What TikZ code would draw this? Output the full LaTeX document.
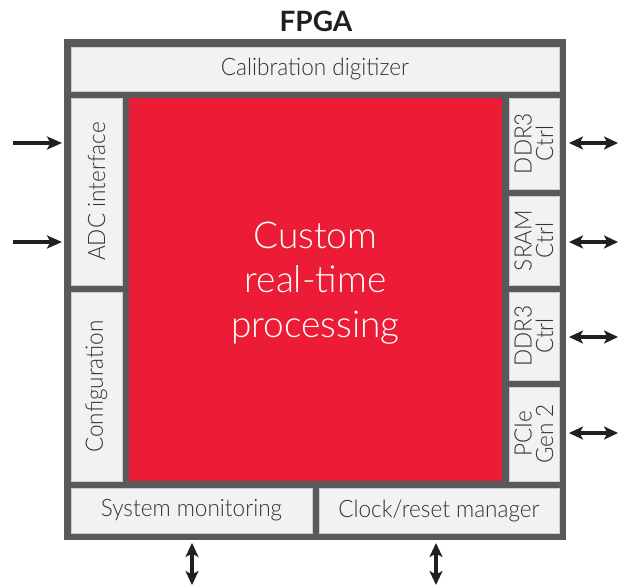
\documentclass[tikz,border=0pt]{standalone}
\usepackage{fontspec}
\setmainfont{Lato}[UprightFont={* Light}, BoldFont={* Bold}, FakeStretch=0.94]
\newfontfamily\corefont{Lato}[UprightFont={* Light}, BoldFont={* Bold}]
\newfontfamily\titlefont{Lato}[UprightFont={* Bold}, BoldFont={* Bold}]
\usetikzlibrary{arrows.meta}
\definecolor{fgray}{HTML}{58595B}
\definecolor{boxfill}{HTML}{F2F2F2}
\definecolor{fred}{HTML}{EC1C37}
\definecolor{txt}{HTML}{333333}
\definecolor{arr}{HTML}{231F20}
\tikzset{
  frm/.style={fill=fgray, draw=none, inner sep=0pt, outer sep=0pt},
  blk/.style={fill=boxfill, draw=boxfill!85!black, line width=0.4pt, inner sep=0pt, outer sep=0pt,
    text=txt, font=\fontsize{24}{21.5}\selectfont, align=center},
  vblk/.style={blk, rotate=90},
  core/.style={fill=fred, draw=none, inner sep=0pt, outer sep=0pt},
  corelbl/.style={text=white, font=\corefont\fontsize{37}{44.5}\selectfont, align=center, inner sep=0pt},
  ttl/.style={font=\titlefont\fontsize{28}{30}\selectfont, text=black!88, inner sep=0pt},
  sarr/.style={draw=arr, line width=4pt, -{Stealth[length=15pt, width=13pt, inset=3.5pt]}},
  darr/.style={draw=arr, line width=4pt, {Stealth[length=14pt, width=13pt, inset=3.5pt]}-{Stealth[length=14pt, width=13pt, inset=3.5pt]}},
}
\begin{document}
\begin{tikzpicture}[x=1pt, y=-1pt]
  \useasboundingbox (0,0) rectangle (624,588);
  % FPGA frame
  \node[frm, minimum width=502pt, minimum height=501pt] (frame) at (315,289.5) {};
  \node[ttl] (title) at (316,21) {FPGA};
  % blocks
  \node[blk, minimum width=488pt, minimum height=44pt] (cal) at (315,69) {Calibration digitizer};
  \node[vblk, minimum width=187pt, minimum height=51pt] (adc) at (96.5,191.5) {ADC interface};
  \node[vblk, minimum width=189pt, minimum height=51pt] (conf) at (96.5,386.5) {Configuration};
  \node[core, minimum width=373pt, minimum height=383pt] (proc) at (315.5,289.5) {};
  \node[corelbl] (proclbl) at (315.5,283) {Custom\\real-time\\processing};
  \node[vblk, minimum width=91pt, minimum height=50pt] (ddra) at (534,143.5) {DDR3\\Ctrl};
  \node[vblk, minimum width=89pt, minimum height=50pt] (sram) at (534,240.5) {SRAM\\Ctrl};
  \node[vblk, minimum width=88pt, minimum height=50pt] (ddrb) at (534,336) {DDR3\\Ctrl};
  \node[vblk, minimum width=94pt, minimum height=50pt] (pcie) at (534,434) {PCIe\\Gen 2};
  \node[blk, minimum width=241pt, minimum height=45pt] (sysmon) at (191.5,510.5) {System monitoring};
  \node[blk, minimum width=240pt, minimum height=45pt] (clk) at (439,510.5) {Clock/reset manager};
  % free ends of the connectors
  \coordinate (inA) at (13,143);
  \coordinate (inB) at (13,242);
  \coordinate (outA) at (618,143);
  \coordinate (outB) at (618,242);
  \coordinate (outC) at (618,337);
  \coordinate (outD) at (618,433);
  \coordinate (botA) at (192,585);
  \coordinate (botB) at (436,585);
  % connectors
  \draw[sarr, shorten >=2pt] (inA) -- (inA -| frame.west);
  \draw[sarr, shorten >=2pt] (inB) -- (inB -| frame.west);
  \draw[darr, shorten <=3pt] (outA -| frame.east) -- (outA);
  \draw[darr, shorten <=3pt] (outB -| frame.east) -- (outB);
  \draw[darr, shorten <=3pt] (outC -| frame.east) -- (outC);
  \draw[darr, shorten <=3pt] (outD -| frame.east) -- (outD);
  \draw[darr, shorten <=3pt] (botA |- frame.south) -- (botA);
  \draw[darr, shorten <=3pt] (botB |- frame.south) -- (botB);
\end{tikzpicture}
\end{document}
